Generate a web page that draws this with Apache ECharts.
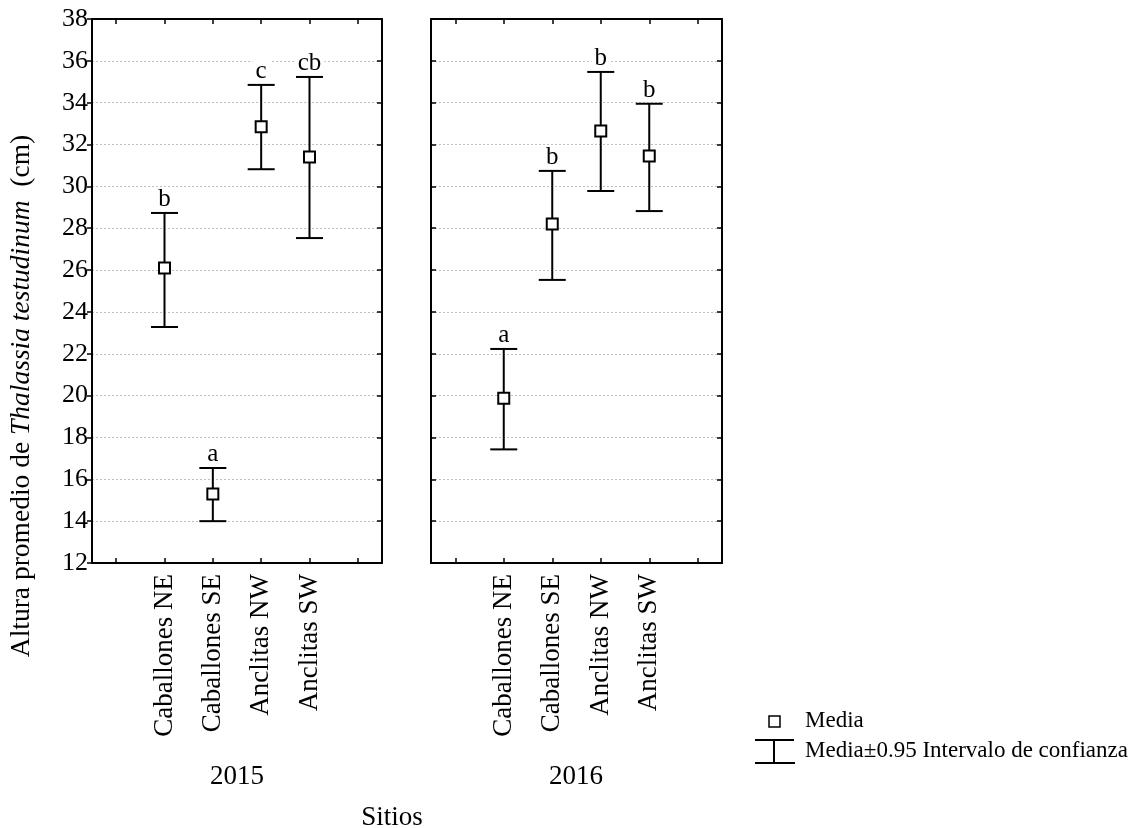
<!DOCTYPE html>
<html>
<head>
<meta charset="utf-8">
<style>html,body{margin:0;padding:0;background:#fff;}#chart{width:1140px;height:828px;}</style>
<script src="https://cdn.jsdelivr.net/npm/echarts@6/dist/echarts.min.js"></script>
</head>
<body>
<div id="chart"></div>
<script>
const sites = ['Caballones NE', 'Caballones SE', 'Anclitas NW', 'Anclitas SW'];
const years = ['2015', '2016'];
const yTicks = [12, 14, 16, 18, 20, 22, 24, 26, 28, 30, 32, 34, 36, 38];

const mean2015 = [26.1, 15.3, 32.85, 31.4];
const lower2015 = [23.28, 14.0, 30.82, 27.53];
const upper2015 = [28.73, 16.54, 34.85, 35.23];
const letters2015 = ['b', 'a', 'c', 'cb'];

const mean2016 = [19.87, 28.2, 32.65, 31.45];
const lower2016 = [17.43, 25.53, 29.78, 28.82];
const upper2016 = [22.23, 30.74, 35.47, 33.95];
const letters2016 = ['a', 'b', 'b', 'b'];

const FONT = 'Liberation Serif';
const cats = [''].concat(sites, ['']);

const chart = echarts.init(document.getElementById('chart'));

const grids = [
  {left: 92, top: 19, width: 290, height: 544},
  {left: 431, top: 19, width: 291, height: 544}
];

function xAxes(gi) {
  return [
    {type: 'category', gridIndex: gi, data: cats, position: 'bottom', boundaryGap: true,
     axisLine: {show: true, lineStyle: {color: '#000', width: 2}},
     axisTick: {show: true, inside: true, length: 5, alignWithLabel: true, lineStyle: {color: '#000', width: 1.5},
                interval: 0},
     axisLabel: {show: true, rotate: 90, margin: 11, interval: 0, fontFamily: FONT, fontSize: 27, color: '#000'},
     splitLine: {show: false}},
    {type: 'category', gridIndex: gi, data: cats, position: 'top', boundaryGap: true,
     axisLine: {show: true, lineStyle: {color: '#000', width: 2}},
     axisTick: {show: true, inside: true, length: 5, alignWithLabel: true, interval: 0, lineStyle: {color: '#000', width: 1.5}},
     axisLabel: {show: false}, splitLine: {show: false}}
  ];
}
function yAxes(gi) {
  return [
    {type: 'value', gridIndex: gi, min: 12, max: 38, interval: 2, position: 'left',
     axisLine: {show: true, lineStyle: {color: '#000', width: 2}},
     axisTick: {show: true, inside: gi === 1, length: 5, lineStyle: {color: '#000', width: 1.5}},
     axisLabel: {show: gi === 0, margin: 4, fontFamily: FONT, fontSize: 26, color: '#000',
                 formatter: v => yTicks.indexOf(v) >= 0 ? String(v) : ''},
     splitLine: {show: true, lineStyle: {color: '#c0c0c0', width: 1, type: [2, 2]}}},
    {type: 'value', gridIndex: gi, min: 12, max: 38, interval: 2, position: 'right',
     axisLine: {show: true, lineStyle: {color: '#000', width: 2}},
     axisTick: {show: true, inside: true, length: 5, lineStyle: {color: '#000', width: 1.5}},
     axisLabel: {show: false}, splitLine: {show: false}}
  ];
}

function errSeries(gi, lower, upper, letters) {
  const data = sites.map((s, i) => [i + 1, lower[i], upper[i]]);
  return {
    type: 'custom', xAxisIndex: gi * 2, yAxisIndex: gi * 2, z: 2, silent: true,
    data: data,
    renderItem: function (params, api) {
      const x = api.value(0), lo = api.value(1), hi = api.value(2);
      const pHi = api.coord([x, hi]);
      const pLo = api.coord([x, lo]);
      const w = 13.5;
      return {type: 'group', children: [
        {type: 'text', x: pHi[0], y: pHi[1] - 1.5, z2: 0, style: {text: letters[params.dataIndex], align: 'center', verticalAlign: 'bottom',
          font: '25px "Liberation Serif"', fill: '#000', backgroundColor: '#fff', padding: [0, 3, 0, 3], lineHeight: 24}},
        {type: 'line', z2: 1, shape: {x1: pHi[0], y1: pHi[1], x2: pLo[0], y2: pLo[1]}, style: {stroke: '#000', lineWidth: 2}},
        {type: 'line', z2: 1, shape: {x1: pHi[0] - w, y1: pHi[1], x2: pHi[0] + w, y2: pHi[1]}, style: {stroke: '#000', lineWidth: 2}},
        {type: 'line', z2: 1, shape: {x1: pLo[0] - w, y1: pLo[1], x2: pLo[0] + w, y2: pLo[1]}, style: {stroke: '#000', lineWidth: 2}}
      ]};
    }
  };
}
function meanSeries(gi, mean) {
  return {
    type: 'scatter', xAxisIndex: gi * 2, yAxisIndex: gi * 2, z: 5, silent: true,
    symbol: 'rect', symbolSize: 11,
    itemStyle: {color: '#fff', borderColor: '#000', borderWidth: 2, opacity: 1},
    data: sites.map((s, i) => [i + 1, mean[i]])
  };
}

const option = {
  backgroundColor: '#fff',
  animation: false,
  grid: grids,
  xAxis: xAxes(0).concat(xAxes(1)),
  yAxis: yAxes(0).concat(yAxes(1)),
  series: [
    errSeries(0, lower2015, upper2015, letters2015),
    meanSeries(0, mean2015),
    errSeries(1, lower2016, upper2016, letters2016),
    meanSeries(1, mean2016)
  ],
  graphic: [
    {type: 'text', x: 237, y: 777, style: {text: years[0], font: '27px "Liberation Serif"', fill: '#000', align: 'center', verticalAlign: 'middle'}},
    {type: 'text', x: 576, y: 777, style: {text: years[1], font: '27px "Liberation Serif"', fill: '#000', align: 'center', verticalAlign: 'middle'}},
    {type: 'text', x: 392, y: 818, style: {text: 'Sitios', font: '27px "Liberation Serif"', fill: '#000', align: 'center', verticalAlign: 'middle'}},
    {type: 'text', x: 22, y: 396, rotation: Math.PI / 2,
     style: {text: '{n|Altura promedio de }{i|Thalassia testudinum}{n|  (cm)}', align: 'center', verticalAlign: 'middle',
       rich: {n: {font: '27.5px "Liberation Serif"', fill: '#000'}, i: {font: 'italic 27.5px "Liberation Serif"', fill: '#000'}}}},
    {type: 'rect', shape: {x: 769, y: 716, width: 11, height: 11}, style: {fill: '#fff', stroke: '#000', lineWidth: 1.5}},
    {type: 'text', x: 805, y: 721, style: {text: 'Media', font: '23px "Liberation Serif"', fill: '#000', align: 'left', verticalAlign: 'middle'}},
    {type: 'line', shape: {x1: 755, y1: 740, x2: 794, y2: 740}, style: {stroke: '#000', lineWidth: 2}},
    {type: 'line', shape: {x1: 774, y1: 740, x2: 774, y2: 763}, style: {stroke: '#000', lineWidth: 2}},
    {type: 'line', shape: {x1: 755, y1: 763, x2: 795, y2: 763}, style: {stroke: '#000', lineWidth: 2}},
    {type: 'text', x: 805, y: 751, style: {text: 'Media±0.95 Intervalo de confianza', font: '23px "Liberation Serif"', fill: '#000', align: 'left', verticalAlign: 'middle'}}
  ]
};
chart.setOption(option);
</script>
</body>
</html>
